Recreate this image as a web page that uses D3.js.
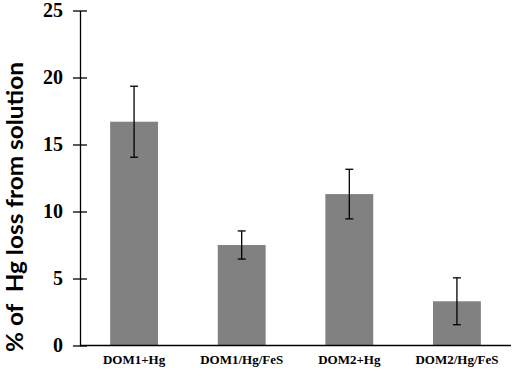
<!DOCTYPE html>
<html>
<head>
<meta charset="utf-8">
<script src="https://cdn.jsdelivr.net/npm/d3@7"></script>
<style>
  body { margin: 0; background: #fff; }
  svg { display: block; }
</style>
</head>
<body>
<svg></svg>
<script>
var categories = ["DOM1+Hg", "DOM1/Hg/FeS", "DOM2+Hg", "DOM2/Hg/FeS"];
var values = [16.7, 7.5, 11.3, 3.3];
var errors = [2.65, 1.05, 1.85, 1.75];
var yTicks = [0, 5, 10, 15, 20, 25];

function main() {
  var width = 512;
  var height = 369;

  var svg = d3.select("svg")
    .attr("width", width)
    .attr("height", height);

  var x = d3.scaleBand()
    .domain(categories)
    .range([80, 511])
    .paddingInner(0.555)
    .paddingOuter(0.28);

  var y = d3.scaleLinear()
    .domain([0, 25])
    .range([345.5, 10.5]);

  // bars
  svg.selectAll(".bar")
    .data(categories)
    .enter()
    .append("rect")
    .attr("class", "bar")
    .attr("x", function(d) { return x(d); })
    .attr("y", function(d, i) { return y(values[i]); })
    .attr("width", x.bandwidth())
    .attr("height", function(d, i) { return y(0) - y(values[i]); })
    .attr("fill", "#818181");

  // error bars
  var err = svg.selectAll(".err")
    .data(categories)
    .enter()
    .append("g")
    .attr("class", "err")
    .attr("stroke", "#000")
    .attr("stroke-width", 1.3);

  err.append("line")
    .attr("x1", function(d) { return x(d) + x.bandwidth() / 2; })
    .attr("x2", function(d) { return x(d) + x.bandwidth() / 2; })
    .attr("y1", function(d, i) { return y(values[i] + errors[i]); })
    .attr("y2", function(d, i) { return y(values[i] - errors[i]); });

  [1, -1].forEach(function(s) {
    err.append("line")
      .attr("x1", function(d) { return x(d) + x.bandwidth() / 2 - 4; })
      .attr("x2", function(d) { return x(d) + x.bandwidth() / 2 + 4; })
      .attr("y1", function(d, i) { return y(values[i] + s * errors[i]); })
      .attr("y2", function(d, i) { return y(values[i] + s * errors[i]); });
  });

  // y axis
  var yAxis = svg.append("g")
    .attr("transform", "translate(80,0)")
    .call(d3.axisLeft(y).tickValues(yTicks).tickSize(7).tickSizeOuter(0).tickPadding(10));
  yAxis.select(".domain").attr("stroke", "#000").attr("stroke-width", 1.3);
  yAxis.selectAll(".tick line")
    .attr("x1", 7).attr("x2", -7)
    .attr("stroke-width", 1.3);
  yAxis.selectAll(".tick text")
    .attr("x", -17)
    .attr("font-family", "'Liberation Serif', 'Times New Roman', serif")
    .attr("font-weight", "bold")
    .attr("font-size", 20)
    .attr("fill", "#000");

  // x axis
  var xAxis = svg.append("g")
    .attr("transform", "translate(0," + y(0) + ")")
    .call(d3.axisBottom(x).tickSize(0));
  xAxis.select(".domain")
    .attr("d", "M80,0H511")
    .attr("stroke", "#000")
    .attr("stroke-width", 1.3);
  xAxis.selectAll(".tick text")
    .attr("y", 18.5)
    .attr("dy", null)
    .attr("font-family", "'Liberation Serif', 'Times New Roman', serif")
    .attr("font-weight", "bold")
    .attr("font-size", 13)
    .attr("fill", "#000");

  // y label
  svg.append("text")
    .attr("transform", "translate(22.5,207) rotate(-90)")
    .attr("text-anchor", "middle")
    .attr("font-family", "Lato, 'Open Sans', sans-serif")
    .attr("font-weight", "bold")
    .attr("font-size", 22.5)
    .attr("textLength", 290)
    .attr("lengthAdjust", "spacingAndGlyphs")
    .attr("fill", "#000")
    .style("white-space", "pre")
    .text("% of  Hg loss from solution");
}

main();
</script>
</body>
</html>
